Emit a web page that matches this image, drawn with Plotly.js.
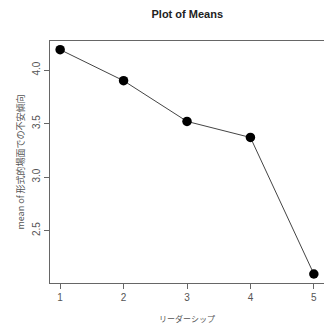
<!DOCTYPE html>
<html><head><meta charset="utf-8">
<script src="https://cdn.plot.ly/plotly-3.0.1.min.js"></script>
<style>html,body{margin:0;padding:0;background:#fff}</style>
</head><body><div id="chart" style="width:324px;height:326px"></div>
<script>
const categories = [1, 2, 3, 4, 5];
const means = [4.19, 3.90, 3.52, 3.37, 2.095];
const yTicks = [2.5, 3.0, 3.5, 4.0];
const yTickText = ["2.5", "3.0", "3.5", "4.0"];
const xTitle = "リーダーシップ";
const yTitle = "mean of 形式的場面での不安傾向";
const chartTitle = "Plot of Means";

const fontFam = '"Liberation Sans", Arial, "Noto Sans CJK JP", sans-serif';
const cjkFam = '"Noto Sans CJK JP", "Liberation Sans", sans-serif';
Plotly.newPlot('chart', [{
  x: categories, y: means, type: 'scatter', mode: 'lines+markers',
  line: {color: '#444', width: 1},
  marker: {color: '#000', size: 9.5}
}], {
  width: 324, height: 326,
  margin: {l: 50, r: 0, t: 41, b: 43},
  paper_bgcolor: '#fff', plot_bgcolor: '#fff',
  font: {family: fontFam, color: '#555', size: 9},
  title: {text: '<b>' + chartTitle + '</b>', font: {size: 11, color: '#222'}, x: 0.578, xanchor: 'center', y: 0.958, yanchor: 'middle'},
  xaxis: {range: [0.84, 5.16], tickvals: categories, ticktext: categories.map(String),
    showgrid: false, zeroline: false, showline: true, mirror: true, linecolor: '#666', linewidth: 1,
    ticks: 'outside', ticklen: 5, tickcolor: '#666', tickfont: {size: 10, color: '#555'},
    title: {text: xTitle, font: {family: cjkFam, size: 8, color: '#555'}, standoff: 14}},
  yaxis: {range: [2.011, 4.271], tickvals: yTicks, ticktext: yTickText, tickangle: -90,
    showgrid: false, zeroline: false, showline: true, mirror: true, linecolor: '#666', linewidth: 1,
    ticks: 'outside', ticklen: 5, tickcolor: '#666', tickfont: {size: 10, color: '#555'},
    title: {text: yTitle, font: {family: cjkFam, size: 9, color: '#555'}, standoff: 4}},
  showlegend: false
}, {displayModeBar: false, staticPlot: true});
</script></body></html>
